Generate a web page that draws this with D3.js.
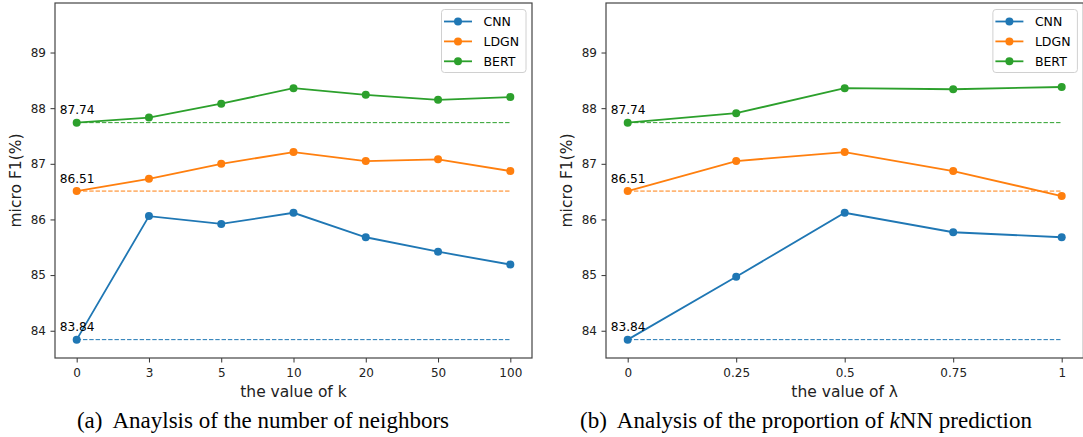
<!DOCTYPE html>
<html>
<head>
<meta charset="utf-8">
<script src="https://cdn.jsdelivr.net/npm/d3@7"></script>
<style>
  body { margin: 0; background: #fff; }
  svg { display: block; }
</style>
</head>
<body>
<div id="chart"></div>
<script>
/***** data *****/
var seriesNames = ["CNN", "LDGN", "BERT"];
var seriesColors = ["#1f77b4", "#ff7f0e", "#2ca02c"];

// panel (a): number of neighbors
var kValues = ["0", "3", "5", "10", "20", "50", "100"];
var cnnK = [83.84, 86.06, 85.92, 86.12, 85.68, 85.42, 85.19];
var ldgnK = [86.51, 86.73, 87.00, 87.21, 87.05, 87.08, 86.87];
var bertK = [87.74, 87.83, 88.08, 88.36, 88.24, 88.15, 88.20];

// panel (b): proportion of kNN prediction
var lambdaValues = [0, 0.25, 0.5, 0.75, 1];
var cnnL = [83.84, 84.97, 86.12, 85.77, 85.68];
var ldgnL = [86.51, 87.05, 87.21, 86.87, 86.42];
var bertL = [87.74, 87.91, 88.36, 88.34, 88.38];

// baselines (dashed) for CNN, LDGN, BERT
var baselines = [83.84, 86.51, 87.74];
var baselineLabels = ["83.84", "86.51", "87.74"];

var yTicks = [84, 85, 86, 87, 88, 89];
var yDomain = [83.51, 89.89];

/***** svg *****/
var W = 1083, H = 437;
var svg = d3.select("#chart")
  .append("svg")
  .attr("width", W)
  .attr("height", H)
;
svg.append("rect").attr("width", W).attr("height", H).attr("fill", "#fff");

var plotTop = 3, plotBottom = 358;

var y = d3.scaleLinear()
  .domain(yDomain)
  .range([plotBottom, plotTop])
;

// style axis ticks like matplotlib
var styleAxis = function(a) {
  a.select(".domain").remove();
  a.attr("font-family", "DejaVu Sans, sans-serif").attr("font-size", 12);
  a.selectAll(".tick text").attr("fill", "#222");
  a.selectAll(".tick line").attr("stroke", "#333");
};

function drawPanel(left, right, x, xTickValues, xTickFormat, xs, series, xLabel) {
  var g = svg.append("g");

  //y axis
  g.append("g")
    .attr("transform", "translate(" + left + ",0)")
    .call(d3.axisLeft(y).tickValues(yTicks).tickFormat(d3.format("d")).tickSize(4.5).tickPadding(4.5))
    .call(styleAxis)
  ;

  //x axis
  var xAxis = d3.axisBottom(x).tickSize(4.5).tickPadding(6);
  if (xTickValues) xAxis.tickValues(xTickValues);
  if (xTickFormat) xAxis.tickFormat(xTickFormat);
  g.append("g")
    .attr("transform", "translate(0," + plotBottom + ")")
    .call(xAxis)
    .call(styleAxis)
  ;

  //dashed baselines
  baselines.forEach(function(b, i) {
    g.append("line")
      .attr("x1", x(xs[0]))
      .attr("x2", x(xs[xs.length - 1]))
      .attr("y1", y(b))
      .attr("y2", y(b))
      .attr("stroke", seriesColors[i])
      .attr("stroke-width", 1)
      .attr("stroke-dasharray", "4.4,1.9")
    ;
  });

  //series lines + markers
  var line = d3.line()
    .x(function(d, i){ return x(xs[i]); })
    .y(function(d){ return y(d); })
  ;
  series.forEach(function(s, i) {
    g.append("path")
      .datum(s)
      .attr("d", line)
      .attr("fill", "none")
      .attr("stroke", seriesColors[i])
      .attr("stroke-width", 1.8)
    ;
    g.selectAll(null)
      .data(s)
      .enter()
      .append("circle")
      .attr("cx", function(d, j){ return x(xs[j]); })
      .attr("cy", function(d){ return y(d); })
      .attr("r", 4)
      .attr("fill", seriesColors[i])
    ;
  });

  //baseline value labels
  baselines.forEach(function(b, i) {
    g.append("text")
      .attr("x", x(xs[0]) - 17)
      .attr("y", y(b) - 8.5)
      .attr("font-family", "DejaVu Sans, sans-serif")
      .attr("font-size", 12.2)
      .attr("fill", "#000")
      .text(baselineLabels[i])
    ;
  });

  //frame
  g.append("rect")
    .attr("x", left)
    .attr("y", plotTop)
    .attr("width", right - left)
    .attr("height", plotBottom - plotTop)
    .attr("fill", "none")
    .attr("stroke", "#444")
    .attr("stroke-width", 1.2)
  ;

  //legend
  var lx = right - 6 - 84.5, ly = 9.5;
  g.append("rect")
    .attr("x", lx)
    .attr("y", ly)
    .attr("width", 84.5)
    .attr("height", 63)
    .attr("rx", 3)
    .attr("fill", "#fff")
    .attr("fill-opacity", 0.8)
    .attr("stroke", "#d0d0d0")
    .attr("stroke-width", 1)
  ;
  seriesNames.forEach(function(name, i) {
    var ry = ly + 12 + i * 19.9;
    g.append("line")
      .attr("x1", lx + 2.5)
      .attr("x2", lx + 30.5)
      .attr("y1", ry)
      .attr("y2", ry)
      .attr("stroke", seriesColors[i])
      .attr("stroke-width", 1.8)
    ;
    g.append("circle")
      .attr("cx", lx + 16.5)
      .attr("cy", ry)
      .attr("r", 4)
      .attr("fill", seriesColors[i])
    ;
    g.append("text")
      .attr("x", lx + 42)
      .attr("y", ry)
      .attr("dy", "0.36em")
      .attr("font-family", "DejaVu Sans, sans-serif")
      .attr("font-size", 12.5)
      .attr("fill", "#000")
      .text(name)
    ;
  });

  //axis labels
  g.append("text")
    .attr("x", (left + right) / 2)
    .attr("y", 397)
    .attr("text-anchor", "middle")
    .attr("font-family", "DejaVu Sans, sans-serif")
    .attr("font-size", 15.5)
    .attr("fill", "#222")
    .text(xLabel)
  ;
  g.append("text")
    .attr("transform", "translate(" + (left - 34) + "," + ((plotTop + plotBottom) / 2) + ") rotate(-90)")
    .attr("text-anchor", "middle")
    .attr("font-family", "DejaVu Sans, sans-serif")
    .attr("font-size", 15.5)
    .attr("fill", "#222")
    .text("micro F1(%)")
  ;
}

/********* Panel (a) *********/
var xA = d3.scalePoint()
  .domain(kValues)
  .range([55, 532])
  .padding(0.3)
;
drawPanel(55, 532, xA, null, null, kValues, [cnnK, ldgnK, bertK], "the value of k");

/********* Panel (b) *********/
var xB = d3.scaleLinear()
  .domain([-0.05, 1.05])
  .range([606, 1083.4])
;
drawPanel(606, 1083.4, xB, lambdaValues, d3.format(""), lambdaValues, [cnnL, ldgnL, bertL], "the value of \u03bb");

/********* Captions *********/
function caption(cx, parts) {
  var t = svg.append("text")
    .attr("x", cx)
    .attr("y", 428)
    .attr("text-anchor", "middle")
    .attr("font-family", "Liberation Serif, Times New Roman, serif")
    .attr("font-size", 23)
    .attr("fill", "#000")
  ;
  parts.forEach(function(p) {
    var s = t.append("tspan").text(p.t);
    if (p.dx) s.attr("dx", p.dx);
    if (p.i) s.attr("font-style", "italic");
  });
}
caption(263, [{t: "(a)"}, {t: "Anaylsis of the number of neighbors", dx: 10}]);
caption(806, [{t: "(b)"}, {t: "Analysis of the proportion of ", dx: 10}, {t: "k", i: true}, {t: "NN prediction"}]);
</script>
</body>
</html>
